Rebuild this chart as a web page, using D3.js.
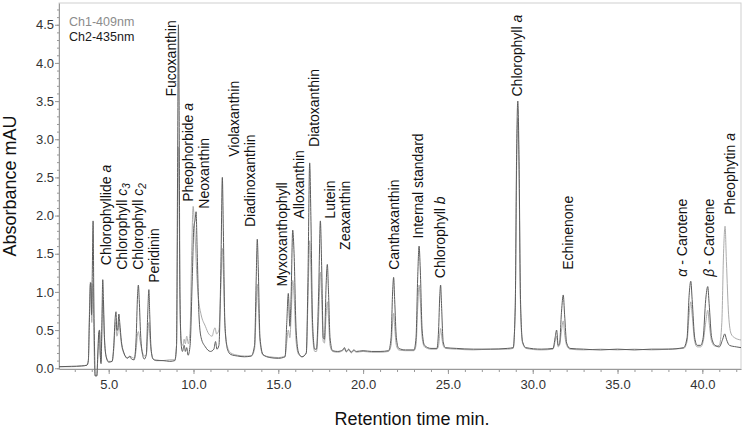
<!DOCTYPE html>
<html><head><meta charset="utf-8">
<script src="https://cdn.jsdelivr.net/npm/d3@7"></script>
<style>body{margin:0;background:#fff}svg{display:block;font-family:"Liberation Sans",Arial,sans-serif}</style>
</head><body><svg id="c" width="745" height="428"></svg>
<script>
const seriesNames = ["Ch1-409nm", "Ch2-435nm"];
// Ch1-409nm: [retention time (min), absorbance]
const ch1 = [[2.07,0.02],[2.8,0.02],[3.4,0.03],[3.72,0.04],[3.8,0.1],[3.86,0.7],[3.92,1.13],[3.96,1.0],[4.0,0.6],[4.05,1.0],[4.08,1.1],[4.12,0.5],[4.17,0.0],[4.21,-0.1],[4.3,-0.1],[4.36,0.15],[4.42,0.45],[4.46,0.48],[4.5,0.2],[4.55,0.1],[4.6,0.5],[4.65,0.9],[4.7,0.7],[4.77,0.3],[4.9,0.12],[5.0,0.09],[5.2,0.09],[5.3,0.25],[5.38,0.55],[5.43,0.6],[5.48,0.42],[5.53,0.45],[5.6,0.6],[5.65,0.52],[5.75,0.32],[5.9,0.19],[6.1,0.14],[6.3,0.15],[6.5,0.13],[6.62,0.25],[6.7,0.45],[6.75,0.48],[6.82,0.4],[6.9,0.3],[7.0,0.2],[7.1,0.16],[7.22,0.18],[7.3,0.45],[7.37,0.6],[7.43,0.4],[7.52,0.2],[7.62,0.12],[7.8,0.11],[8.2,0.1],[8.6,0.11],[8.9,0.11],[9.0,0.3],[9.06,1.8],[9.11,2.9],[9.16,2.0],[9.22,0.6],[9.3,0.32],[9.38,0.3],[9.45,0.38],[9.52,0.32],[9.6,0.42],[9.7,0.32],[9.8,0.5],[9.9,1.6],[9.98,2.12],[10.05,1.9],[10.12,1.6],[10.2,1.2],[10.3,0.9],[10.45,0.7],[10.7,0.55],[10.9,0.45],[11.1,0.42],[11.2,0.5],[11.27,0.53],[11.36,0.45],[11.5,0.5],[11.62,1.1],[11.7,1.57],[11.77,1.2],[11.86,0.5],[12.0,0.28],[12.2,0.2],[12.6,0.17],[13.0,0.16],[13.4,0.16],[13.6,0.25],[13.7,0.8],[13.76,1.1],[13.82,0.85],[13.92,0.35],[14.1,0.17],[14.5,0.15],[15.0,0.14],[15.4,0.16],[15.5,0.35],[15.59,0.5],[15.68,0.4],[15.76,0.7],[15.85,1.15],[15.93,0.95],[16.05,0.35],[16.2,0.18],[16.4,0.15],[16.65,0.2],[16.75,0.9],[16.85,1.67],[16.92,1.3],[17.02,0.45],[17.15,0.22],[17.25,0.22],[17.38,0.7],[17.48,1.26],[17.56,0.9],[17.65,0.35],[17.72,0.33],[17.82,0.7],[17.89,0.87],[17.96,0.65],[18.05,0.3],[18.2,0.22],[18.5,0.21],[18.8,0.23],[18.9,0.26],[19.0,0.21],[19.15,0.24],[19.3,0.2],[19.45,0.23],[19.6,0.21],[20.0,0.22],[20.5,0.21],[21.0,0.21],[21.5,0.22],[21.65,0.3],[21.74,0.6],[21.8,0.72],[21.86,0.55],[21.96,0.3],[22.1,0.24],[22.5,0.23],[23.0,0.23],[23.12,0.3],[23.22,0.8],[23.3,1.09],[23.37,0.9],[23.48,0.4],[23.62,0.28],[24.0,0.25],[24.35,0.25],[24.45,0.3],[24.52,0.45],[24.57,0.52],[24.63,0.42],[24.72,0.3],[24.85,0.26],[25.5,0.25],[26.5,0.24],[27.5,0.25],[28.5,0.25],[28.85,0.26],[28.97,0.8],[29.05,2.6],[29.12,3.27],[29.19,2.6],[29.28,0.8],[29.4,0.33],[29.6,0.26],[30.5,0.24],[31.2,0.25],[31.32,0.35],[31.41,0.42],[31.5,0.28],[31.58,0.3],[31.7,0.5],[31.8,0.62],[31.88,0.45],[32.0,0.3],[32.2,0.25],[33.0,0.24],[34.0,0.25],[35.0,0.24],[36.0,0.25],[37.0,0.24],[38.0,0.25],[38.9,0.26],[39.1,0.35],[39.22,0.7],[39.32,0.87],[39.4,0.7],[39.55,0.35],[39.7,0.28],[39.9,0.28],[40.05,0.35],[40.2,0.6],[40.32,0.76],[40.4,0.6],[40.55,0.35],[40.75,0.29],[41.0,0.3],[41.15,0.6],[41.25,1.5],[41.34,1.86],[41.42,1.4],[41.55,0.7],[41.7,0.45],[41.9,0.4],[42.28,0.37]];
// Ch2-435nm
const ch2 = [[2.07,0.02],[2.8,0.025],[3.4,0.03],[3.72,0.04],[3.8,0.1],[3.86,0.6],[3.92,1.1],[3.95,1.12],[3.99,0.7],[4.03,1.2],[4.08,1.93],[4.12,1.0],[4.17,0.2],[4.2,-0.1],[4.3,-0.1],[4.36,0.2],[4.42,0.48],[4.46,0.5],[4.5,0.2],[4.55,0.06],[4.6,0.6],[4.65,1.16],[4.69,0.9],[4.75,0.4],[4.85,0.15],[5.0,0.08],[5.2,0.09],[5.3,0.3],[5.38,0.65],[5.43,0.74],[5.48,0.5],[5.53,0.5],[5.6,0.71],[5.65,0.6],[5.75,0.35],[5.9,0.2],[6.1,0.13],[6.25,0.16],[6.35,0.12],[6.5,0.11],[6.62,0.4],[6.7,0.95],[6.75,1.09],[6.8,0.9],[6.88,0.45],[6.98,0.2],[7.1,0.12],[7.22,0.18],[7.3,0.7],[7.37,1.03],[7.42,0.7],[7.5,0.25],[7.62,0.12],[7.8,0.1],[8.2,0.1],[8.6,0.09],[8.9,0.1],[9.0,0.3],[9.06,2.5],[9.11,4.5],[9.15,3.5],[9.2,1.0],[9.28,0.3],[9.35,0.22],[9.45,0.3],[9.52,0.22],[9.6,0.27],[9.68,0.17],[9.8,0.3],[9.93,1.2],[10.02,1.85],[10.1,1.95],[10.15,2.05],[10.22,1.5],[10.32,0.7],[10.45,0.4],[10.7,0.28],[11.0,0.22],[11.2,0.25],[11.3,0.35],[11.38,0.25],[11.5,0.3],[11.62,1.4],[11.7,2.5],[11.76,1.8],[11.85,0.6],[12.0,0.25],[12.2,0.18],[12.6,0.16],[13.0,0.15],[13.4,0.16],[13.6,0.3],[13.7,1.2],[13.76,1.69],[13.82,1.3],[13.92,0.4],[14.1,0.18],[14.5,0.14],[15.0,0.13],[15.4,0.15],[15.5,0.6],[15.59,0.98],[15.68,0.55],[15.75,0.9],[15.85,1.81],[15.93,1.5],[16.05,0.5],[16.2,0.2],[16.4,0.15],[16.65,0.2],[16.75,1.2],[16.85,2.69],[16.92,2.0],[17.02,0.6],[17.15,0.25],[17.25,0.25],[17.38,1.0],[17.48,1.93],[17.56,1.3],[17.65,0.4],[17.72,0.38],[17.82,1.1],[17.89,1.36],[17.96,1.0],[18.05,0.4],[18.2,0.23],[18.5,0.22],[18.8,0.24],[18.9,0.27],[19.0,0.22],[19.15,0.25],[19.3,0.21],[19.45,0.24],[19.6,0.22],[20.0,0.23],[20.5,0.22],[21.0,0.22],[21.5,0.23],[21.65,0.4],[21.74,1.0],[21.8,1.19],[21.86,0.9],[21.96,0.4],[22.1,0.26],[22.5,0.24],[23.0,0.24],[23.12,0.4],[23.22,1.2],[23.3,1.6],[23.37,1.3],[23.48,0.5],[23.62,0.3],[24.0,0.26],[24.35,0.26],[24.45,0.5],[24.52,0.95],[24.57,1.09],[24.62,0.85],[24.72,0.35],[24.85,0.27],[25.5,0.26],[26.5,0.25],[27.5,0.25],[28.5,0.26],[28.85,0.27],[28.97,0.8],[29.05,2.8],[29.12,3.5],[29.19,2.8],[29.28,0.9],[29.4,0.35],[29.6,0.27],[30.5,0.25],[31.2,0.26],[31.32,0.4],[31.41,0.5],[31.5,0.3],[31.58,0.32],[31.7,0.75],[31.8,0.96],[31.88,0.7],[32.0,0.33],[32.2,0.26],[33.0,0.25],[34.0,0.24],[35.0,0.25],[36.0,0.24],[37.0,0.25],[38.0,0.25],[38.9,0.27],[39.1,0.4],[39.22,0.95],[39.32,1.14],[39.4,0.9],[39.55,0.4],[39.7,0.3],[39.9,0.3],[40.05,0.4],[40.2,0.9],[40.32,1.07],[40.4,0.85],[40.55,0.4],[40.75,0.3],[41.0,0.28],[41.2,0.38],[41.32,0.45],[41.42,0.38],[41.6,0.3],[42.0,0.28],[42.28,0.27]];

const yMajorTicks = [0, 0.5, 1, 1.5, 2, 2.5, 3, 3.5, 4, 4.5];
const xMajorTicks = [5, 10, 15, 20, 25, 30, 35, 40];
const xTitle = "Retention time min.";
const yTitle = "Absorbance mAU";

// Peak labels: *x* = italic, _n = subscript
const peakNames = ["Chlorophyllide *a*", "Chlorophyll *c*_3", "Chlorophyll *c*_2", "Peridinin", "Fucoxanthin",
  "Pheophorbide *a*", "Neoxanthin", "Violaxanthin", "Diadinoxanthin", "Myxoxanthophyll", "Alloxanthin",
  "Diatoxanthin", "Lutein", "Zeaxanthin", "Canthaxanthin", "Internal standard", "Chlorophyll *b*",
  "Chlorophyll *a*", "Echinenone", "*α* - Carotene", "*β* - Carotene", "Pheophytin *a*"];
const peakLabelTimes = [5.14, 6.08, 7.05, 7.94, 8.94, 9.97, 10.94, 12.71, 13.63, 15.51, 16.52,
  17.37, 18.34, 19.23, 22.09, 23.56, 24.83, 29.37, 32.4, 39.1, 40.66, 41.93];
const peakLabelLevels = [1.35, 1.29, 1.29, 1.12, 3.56, 2.18, 2.09, 2.77, 1.85, 1.07, 1.96,
  2.90, 1.96, 1.55, 1.29, 1.70, 1.18, 3.56, 1.29, 1.20, 1.20, 2.01];

const svg = d3.select("#c");
const W = 745, H = 428;
const m = {l: 59, r: 4, t: 3, b: 59};
const x = d3.scaleLinear().domain([2.07, 42.28]).range([m.l, W - m.r]);
const y = d3.scaleLinear().domain([-0.01, 4.785]).range([H - m.b, m.t]);

// frame
svg.append("rect").attr("x", m.l).attr("y", m.t).attr("width", W - m.r - m.l).attr("height", H - m.b - m.t)
  .attr("fill", "none").attr("stroke", "#cfcfcf").attr("stroke-width", 1);

// minor ticks
const yMinor = d3.range(0, 4.75, 0.1).map(v => +v.toFixed(1));
const xMinor = d3.range(3, 43, 1);
svg.append("g").attr("transform", `translate(${m.l},0)`)
  .call(d3.axisLeft(y).tickValues(yMinor).tickSize(2).tickSizeOuter(0).tickFormat(""))
  .call(g => g.select(".domain").remove())
  .call(g => g.selectAll("line").attr("stroke", "#999"));
svg.append("g").attr("transform", `translate(0,${H - m.b})`)
  .call(d3.axisBottom(x).tickValues(xMinor).tickSize(3).tickSizeOuter(0).tickFormat(""))
  .call(g => g.select(".domain").remove())
  .call(g => g.selectAll("line").attr("stroke", "#999"));

// major axes
svg.append("g").attr("transform", `translate(${m.l},0)`)
  .call(d3.axisLeft(y).tickValues(yMajorTicks).tickSize(4).tickPadding(1).tickSizeOuter(0).tickFormat(d3.format(".1f")))
  .call(g => g.select(".domain").attr("stroke", "#999"))
  .call(g => g.selectAll("line").attr("stroke", "#999"))
  .call(g => g.selectAll("text").attr("fill", "#333").style("font-size", "13px").style("font-family", "Liberation Sans, Arial, sans-serif"));
svg.append("g").attr("transform", `translate(0,${H - m.b})`)
  .call(d3.axisBottom(x).tickValues(xMajorTicks).tickSize(5).tickPadding(6).tickSizeOuter(0).tickFormat(d3.format(".1f")))
  .call(g => g.select(".domain").attr("stroke", "#999"))
  .call(g => g.selectAll("line").attr("stroke", "#999"))
  .call(g => g.selectAll("text").attr("fill", "#333").style("font-size", "13px").style("font-family", "Liberation Sans, Arial, sans-serif"));

// lines
const line = d3.line().x(d => x(d[0])).y(d => y(d[1])).curve(d3.curveMonotoneX);
svg.append("path").datum(ch1).attr("d", line).attr("fill", "none").attr("stroke", "#ababab").attr("stroke-width", 1);
svg.append("path").datum(ch2).attr("d", line).attr("fill", "none").attr("stroke", "#5c5c5c").attr("stroke-width", 1);

// peak labels
peakNames.forEach((name, i) => {
  const t = svg.append("text")
    .attr("transform", `translate(${x(peakLabelTimes[i])},${y(peakLabelLevels[i])}) rotate(-90)`)
    .attr("fill", "#111").style("font-size", "14px");
  const parts = name.split(/(\*[^*]+\*|_\d)/).filter(s => s.length);
  parts.forEach(p => {
    if (p.startsWith("*")) t.append("tspan").style("font-style", "italic").text(p.slice(1, -1));
    else if (p.startsWith("_")) {
      t.append("tspan").attr("dy", 3).style("font-size", "10px").style("font-style", "italic").text(p.slice(1));
    } else t.append("tspan").text(p);
  });
});

// legend
svg.append("text").attr("x", 69).attr("y", 26).attr("fill", "#8c8c8c").style("font-size", "12.5px").text(seriesNames[0]);
svg.append("text").attr("x", 69).attr("y", 41).attr("fill", "#1a1a1a").style("font-size", "12.5px").text(seriesNames[1]);

// axis titles
svg.append("text").attr("x", (m.l + W - m.r) / 2 + 12).attr("y", 425).attr("text-anchor", "middle")
  .attr("fill", "#111").style("font-size", "18px").text(xTitle);
svg.append("text").attr("transform", `translate(16,${(m.t + H - m.b) / 2}) rotate(-90)`).attr("text-anchor", "middle")
  .attr("fill", "#111").style("font-size", "18px").text(yTitle);
</script></body></html>
